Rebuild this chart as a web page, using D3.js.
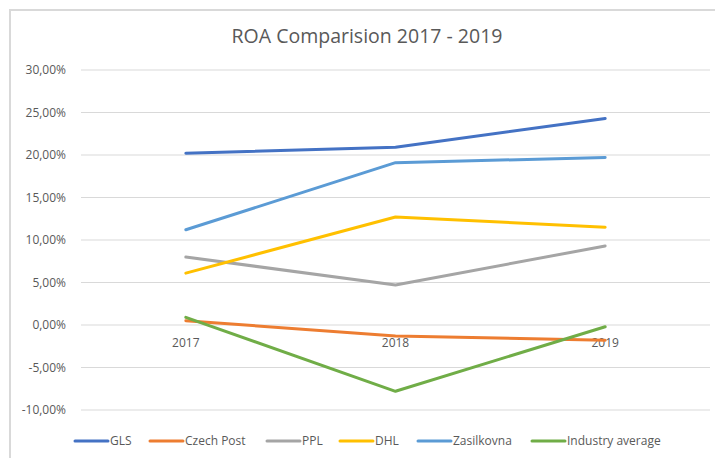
<!DOCTYPE html>
<html>
<head>
<meta charset="utf-8">
<script src="https://cdn.jsdelivr.net/npm/d3@7"></script>
<style>
    body { margin: 0; background: #fff; }
    text { font-family: "Open Sans", sans-serif; fill: #595959; }
</style>
</head>
<body>
<svg id="chart"></svg>
<script>
// data
const years = ["2017", "2018", "2019"];
const gls = [0.202, 0.209, 0.243];
const czechPost = [0.005, -0.013, -0.018];
const ppl = [0.080, 0.047, 0.093];
const dhl = [0.061, 0.127, 0.115];
const zasilkovna = [0.112, 0.191, 0.197];
const industryAvg = [0.009, -0.078, -0.002];
const yTicks = [-0.10, -0.05, 0, 0.05, 0.10, 0.15, 0.20, 0.25, 0.30];

const series = [
    {name: "GLS", values: gls, color: "#4472c4"},
    {name: "Czech Post", values: czechPost, color: "#ed7d31"},
    {name: "PPL", values: ppl, color: "#a5a5a5"},
    {name: "DHL", values: dhl, color: "#ffc000"},
    {name: "Zasilkovna", values: zasilkovna, color: "#5b9bd5"},
    {name: "Industry average", values: industryAvg, color: "#70ad47"}
];

const width = 715;
const height = 458;

const svg = d3.select("svg#chart")
    .attr("width", width)
    .attr("height", height);

// chart frame
svg.append("path")
    .attr("d", "M10,458 V10 H715")
    .attr("fill", "none")
    .attr("stroke", "#d9d9d9")
    .attr("stroke-width", 2);

// title
svg.append("text")
    .attr("x", 367)
    .attr("y", 43)
    .attr("text-anchor", "middle")
    .style("font-size", "19.5px")
    .text("ROA Comparision 2017 - 2019");

// scales
const x = d3.scalePoint().domain(years).range([81, 710]).padding(0.5);
const y = d3.scaleLinear().domain([-0.10, 0.30]).range([410, 70]);

const fmt = v => (v * 100).toFixed(2).replace(".", ",") + "%";

// gridlines
svg.append("g")
    .attr("class", "grid")
    .selectAll("line")
    .data(yTicks)
    .enter()
    .append("line")
        .attr("x1", 81)
        .attr("x2", 710)
        .attr("y1", d => y(d))
        .attr("y2", d => y(d))
        .attr("stroke", "#d9d9d9")
        .attr("stroke-width", 1);

// y axis labels
svg.append("g")
    .selectAll("text")
    .data(yTicks)
    .enter()
    .append("text")
        .attr("x", 66)
        .attr("y", d => y(d))
        .attr("dy", "0.35em")
        .attr("text-anchor", "end")
        .style("font-size", "12px")
        .text(fmt);

// x axis labels sit on the zero line
svg.append("g")
    .selectAll("text")
    .data(years)
    .enter()
    .append("text")
        .attr("x", d => x(d))
        .attr("y", y(0) + 18)
        .attr("dy", "0.35em")
        .attr("text-anchor", "middle")
        .style("font-size", "12px")
        .text(d => d);

// lines
const line = d3.line()
    .x((d, i) => x(years[i]))
    .y(d => y(d));

svg.append("g")
    .selectAll("path")
    .data(series)
    .enter()
    .append("path")
        .attr("d", d => line(d.values))
        .attr("fill", "none")
        .attr("stroke", d => d.color)
        .attr("stroke-width", 3)
        .attr("stroke-linecap", "round")
        .attr("stroke-linejoin", "round");

// legend
const legendX = [75, 150, 267, 340, 418, 532];
const legend = svg.append("g")
    .selectAll("g")
    .data(series)
    .enter()
    .append("g")
        .attr("transform", (d, i) => `translate(${legendX[i]},441)`);

legend.append("line")
    .attr("x1", 0)
    .attr("x2", 33)
    .attr("stroke", d => d.color)
    .attr("stroke-width", 3)
    .attr("stroke-linecap", "round");

legend.append("text")
    .attr("x", 35)
    .attr("dy", "0.35em")
    .style("font-size", "12px")
    .text(d => d.name);
</script>
</body>
</html>
